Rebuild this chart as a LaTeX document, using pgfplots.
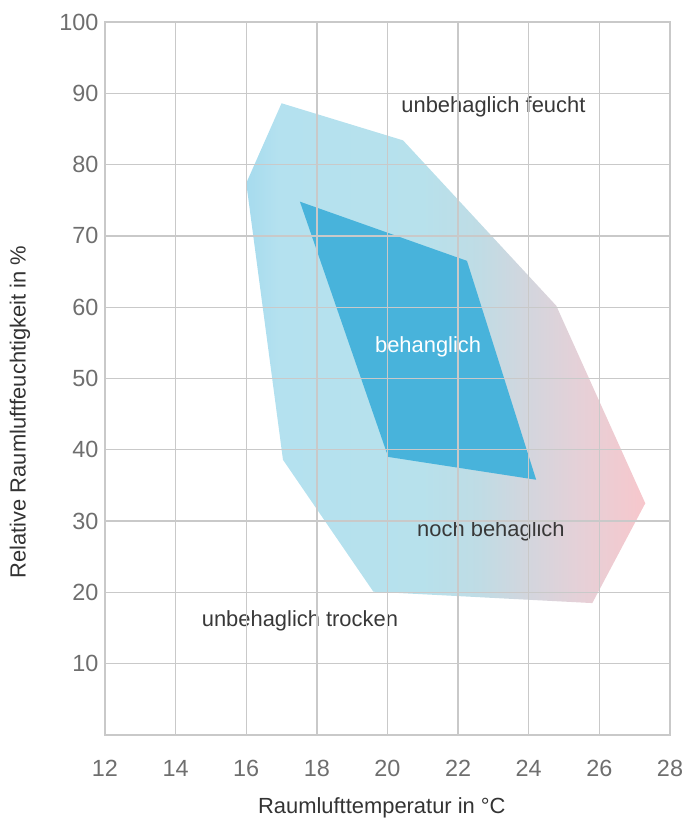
\documentclass[border=0pt]{standalone}
\usepackage{fontspec}
\setmainfont{Liberation Sans}
\usepackage{pgfplots}
\pgfplotsset{compat=1.18}
\definecolor{gridc}{HTML}{C9C9C9}
\definecolor{tickc}{HTML}{6E6E6E}
\definecolor{labc}{HTML}{333333}
\definecolor{annc}{HTML}{383838}
\definecolor{innerc}{HTML}{48B3DB}
\definecolor{c0}{HTML}{A6DBEE}
\definecolor{c1}{HTML}{B4E1EF}
\definecolor{c2}{HTML}{B7E1EC}
\definecolor{c3}{HTML}{BFDCE5}
\definecolor{c4}{HTML}{D2D6DE}
\definecolor{c5}{HTML}{E6D0D7}
\definecolor{c6}{HTML}{F7C7CC}
\pgfdeclarehorizontalshading{comfort}{100bp}{color(0bp)=(c0); color(25bp)=(c0); color(29bp)=(c1); color(47bp)=(c2); color(54bp)=(c3); color(60bp)=(c4); color(67bp)=(c5); color(75bp)=(c6); color(100bp)=(c6)}
\begin{document}
\begin{tikzpicture}
\begin{axis}[
  scale only axis, width=565bp, height=713bp,
  xmin=12, xmax=28, ymin=0, ymax=100,
  xtick={12,14,...,28}, ytick={10,20,...,100},
  grid=major, major grid style={gridc, line width=1.3bp},
  axis line style={gridc, line width=1.5bp},
  major tick length=0pt,
  axis on top,
  ticklabel style={font=\fontsize{23.5}{23.5}\selectfont, text=tickc},
  /pgf/number format/assume math mode=true,
  xticklabel style={yshift=-22bp},
  yticklabel style={xshift=-3bp},
  xlabel={Raumlufttemperatur in °C},
  ylabel={Relative Raumluftfeuchtigkeit in \%},
  label style={font=\fontsize{22}{22}\selectfont, text=labc},
  xlabel style={at={(axis description cs:0.49,-0.1024)}, anchor=center},
  ylabel style={at={(axis description cs:-0.1504,0.453)}, anchor=center},
]
\addplot[draw=none, shade, shading=comfort] coordinates {
  (17.0,88.6) (20.44,83.4) (24.78,60.2) (27.3,32.5) (25.8,18.5) (19.6,20.1) (17.04,38.6) (16.0,77.4)
} -- cycle;
\addplot[draw=none, fill=innerc] coordinates {
  (17.52,74.8) (22.25,66.5) (24.21,35.8) (20.02,39.0)
} -- cycle;
\node[font=\fontsize{22}{22}\selectfont, text=annc] at (axis cs:23.0,88.1) {unbehaglich feucht};
\node[font=\fontsize{22}{22}\selectfont, text=white] at (axis cs:21.15,54.4) {behanglich};
\node[font=\fontsize{22}{22}\selectfont, text=annc] at (axis cs:22.93,28.6) {noch behaglich};
\node[font=\fontsize{22}{22}\selectfont, text=annc] at (axis cs:17.52,16.0) {unbehaglich trocken};
\coordinate (sw) at (rel axis cs:0,0);
\coordinate (ne) at (rel axis cs:1,1);
\end{axis}
\pgfresetboundingbox
\path ([shift={(-105bp,-90bp)}]sw) rectangle ([shift={(19bp,22bp)}]ne);
\end{tikzpicture}
\end{document}
